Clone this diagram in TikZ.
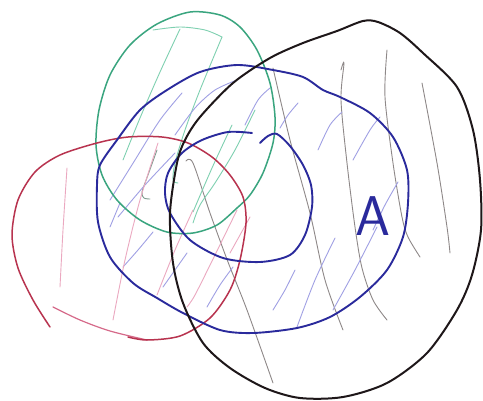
\documentclass[tikz,border=0pt]{standalone}
\begin{document}
\begin{tikzpicture}[x=1pt,y=-1pt,
  outline/.style={line width=#1, line cap=round, line join=round},
  hatch/.style={line width=0.9pt, line cap=round},
  blackpen/.style={outline=2pt, draw=penblack},
  bluepen/.style={outline=1.9pt, draw=penblue},
  greenpen/.style={outline=1.5pt, draw=pengreen},
  redpen/.style={outline=1.5pt, draw=penred},
  greyhatch/.style={hatch, draw=hgrey},
  bluehatch/.style={hatch, draw=hblue},
  greenhatch/.style={hatch, draw=hgreen},
  pinkhatch/.style={hatch, draw=hpink}]
\definecolor{penblack}{HTML}{1E1719}
\definecolor{penblue}{HTML}{2A2A9C}
\definecolor{pengreen}{HTML}{3AA57F}
\definecolor{penred}{HTML}{B8334F}
\definecolor{penpink}{HTML}{D66A8A}
\definecolor{hgrey}{HTML}{8E8888}
\definecolor{hblue}{HTML}{A0A0E4}
\definecolor{hgreen}{HTML}{7ED0B0}
\definecolor{hpink}{HTML}{EBA8C0}
\definecolor{hgreygreen}{HTML}{7E9C8E}
\useasboundingbox[fill=white] (0,0) rectangle (483,400);

% ---- hatching ----
% grey
\draw[greyhatch] plot[smooth] coordinates {(273,68) (290,140) (310,213) (325,280) (343,330)};
\draw[greyhatch] plot[smooth] coordinates {(341,70) (344,63) (341,100) (347,163) (355,227) (362,268) (373,300) (387,320)};
\draw[greyhatch] plot[smooth] coordinates {(387,50) (385,97) (393,163) (402,217) (408,237) (420,257)};
\draw[greyhatch] plot[smooth] coordinates {(422,83) (437,163) (447,227) (450,253)};
\draw[greyhatch] plot[smooth] coordinates {(186,161) (193,163) (210,213) (228,262) (247,310) (273,383)};
\draw[hatch, draw=hgreygreen] plot[smooth] coordinates {(157,150) (148,175) (142,192) (144,198) (150,199)};
% green
\draw[greenhatch] plot[smooth] coordinates {(153,30) (180,27) (205,30) (222,37)};
\draw[greenhatch] plot[smooth] coordinates {(180,29) (160,72) (140,118) (123,160)};
\draw[greenhatch] plot[smooth] coordinates {(222,37) (200,90) (185,130) (175,163) (173,180) (178,183)};
\draw[greenhatch] plot[smooth] coordinates {(255,110) (235,150) (215,183) (200,205) (193,223)};
\draw[greenhatch] plot[smooth] coordinates {(232,125) (212,168) (193,212)};
% blue
\draw[bluehatch] plot[smooth] coordinates {(182,93) (160,120) (135,160) (110,200)};
\draw[bluehatch] plot[smooth] coordinates {(237,80) (215,90) (195,108) (175,135)};
\draw[bluehatch] plot[smooth] coordinates {(270,88) (258,100) (245,125)};
\draw[bluehatch] plot[smooth] coordinates {(298,103) (288,115) (280,128)};
\draw[bluehatch] plot[smooth] coordinates {(342,112) (330,125) (318,150)};
\draw[bluehatch] plot[smooth] coordinates {(380,117) (370,130) (353,160)};
\draw[bluehatch] plot[smooth] coordinates {(398,182) (385,205) (373,230)};
\draw[bluehatch] plot[smooth] coordinates {(377,227) (355,270) (333,310)};
\draw[bluehatch] plot[smooth] coordinates {(335,238) (315,280) (297,327)};
\draw[bluehatch] plot[smooth] coordinates {(295,270) (285,290) (273,310)};
\draw[bluehatch] plot[smooth] coordinates {(233,267) (220,285) (207,307)};
\draw[bluehatch] plot[smooth] coordinates {(187,253) (175,270) (163,287)};
\draw[bluehatch] plot[smooth] coordinates {(153,232) (138,250) (123,267)};
\draw[bluehatch] plot[smooth] coordinates {(120,203) (115,215) (110,227)};
\draw[bluehatch] plot[smooth] coordinates {(175,153) (145,185) (118,217)};
% pink
\draw[pinkhatch] plot[smooth] coordinates {(67,168) (63,230) (60,287)};
\draw[pinkhatch] plot[smooth] coordinates {(158,143) (140,200) (125,260) (113,320)};
\draw[pinkhatch] plot[smooth] coordinates {(193,210) (175,250) (157,295)};
\draw[pinkhatch] plot[smooth] coordinates {(237,210) (215,255) (195,295) (187,307)};
\draw[pinkhatch] plot[smooth] coordinates {(250,217) (240,235) (230,253)};

% ---- outlines ----
\draw[greenpen] plot[smooth cycle] coordinates {(190,12) (220,15) (240,27) (257,50) (270,83) (275,117) (273,143) (263,173) (250,195) (237,208) (217,225) (193,233) (167,232) (140,220) (117,200) (102,175) (96,145) (99,110) (110,75) (130,45) (157,24)};
\draw[outline=1.2pt, draw=penpink] plot[smooth] coordinates {(53,307) (80,320) (110,331) (147,340)};
\draw[redpen] plot[smooth] coordinates {(128,337) (147,340) (180,336) (210,318) (230,290) (240,260) (246,223) (243,197) (230,175) (212,157) (188,143) (162,137) (128,137) (97,143) (60,155) (35,172) (18,200) (12,235) (18,268) (33,300) (50,327)};
\draw[bluepen] plot[smooth cycle] coordinates {(237,65) (273,70) (303,77) (323,90) (340,97) (370,113) (393,137) (407,170) (408,203) (403,237) (387,270) (360,297) (330,317) (297,328) (253,333) (220,330) (183,313) (157,298) (133,283) (110,257) (98,222) (97,185) (100,165) (117,140) (140,110) (167,90) (200,72)};
\draw[bluepen] plot[smooth] coordinates {(252,133) (228,132) (202,140) (182,153) (168,173) (165,193) (170,213) (190,240) (223,258) (260,262) (290,255) (305,235) (312,207) (311,185) (303,165) (290,146) (277,134) (268,136) (260,143)};
\draw[blackpen] plot[smooth cycle] coordinates {(363,21) (378,22) (400,33) (423,53) (457,87) (473,130) (480,180) (481,230) (472,275) (457,310) (427,353) (387,383) (343,397) (300,398) (265,388) (230,368) (203,343) (183,303) (173,263) (170,213) (177,163) (185,140) (200,117) (233,83) (270,58) (303,43) (337,31)};

\node[text=penblue, font=\sffamily\fontsize{56}{56}\selectfont] (labelA) at (373,216) {A};
\end{tikzpicture}
\end{document}
